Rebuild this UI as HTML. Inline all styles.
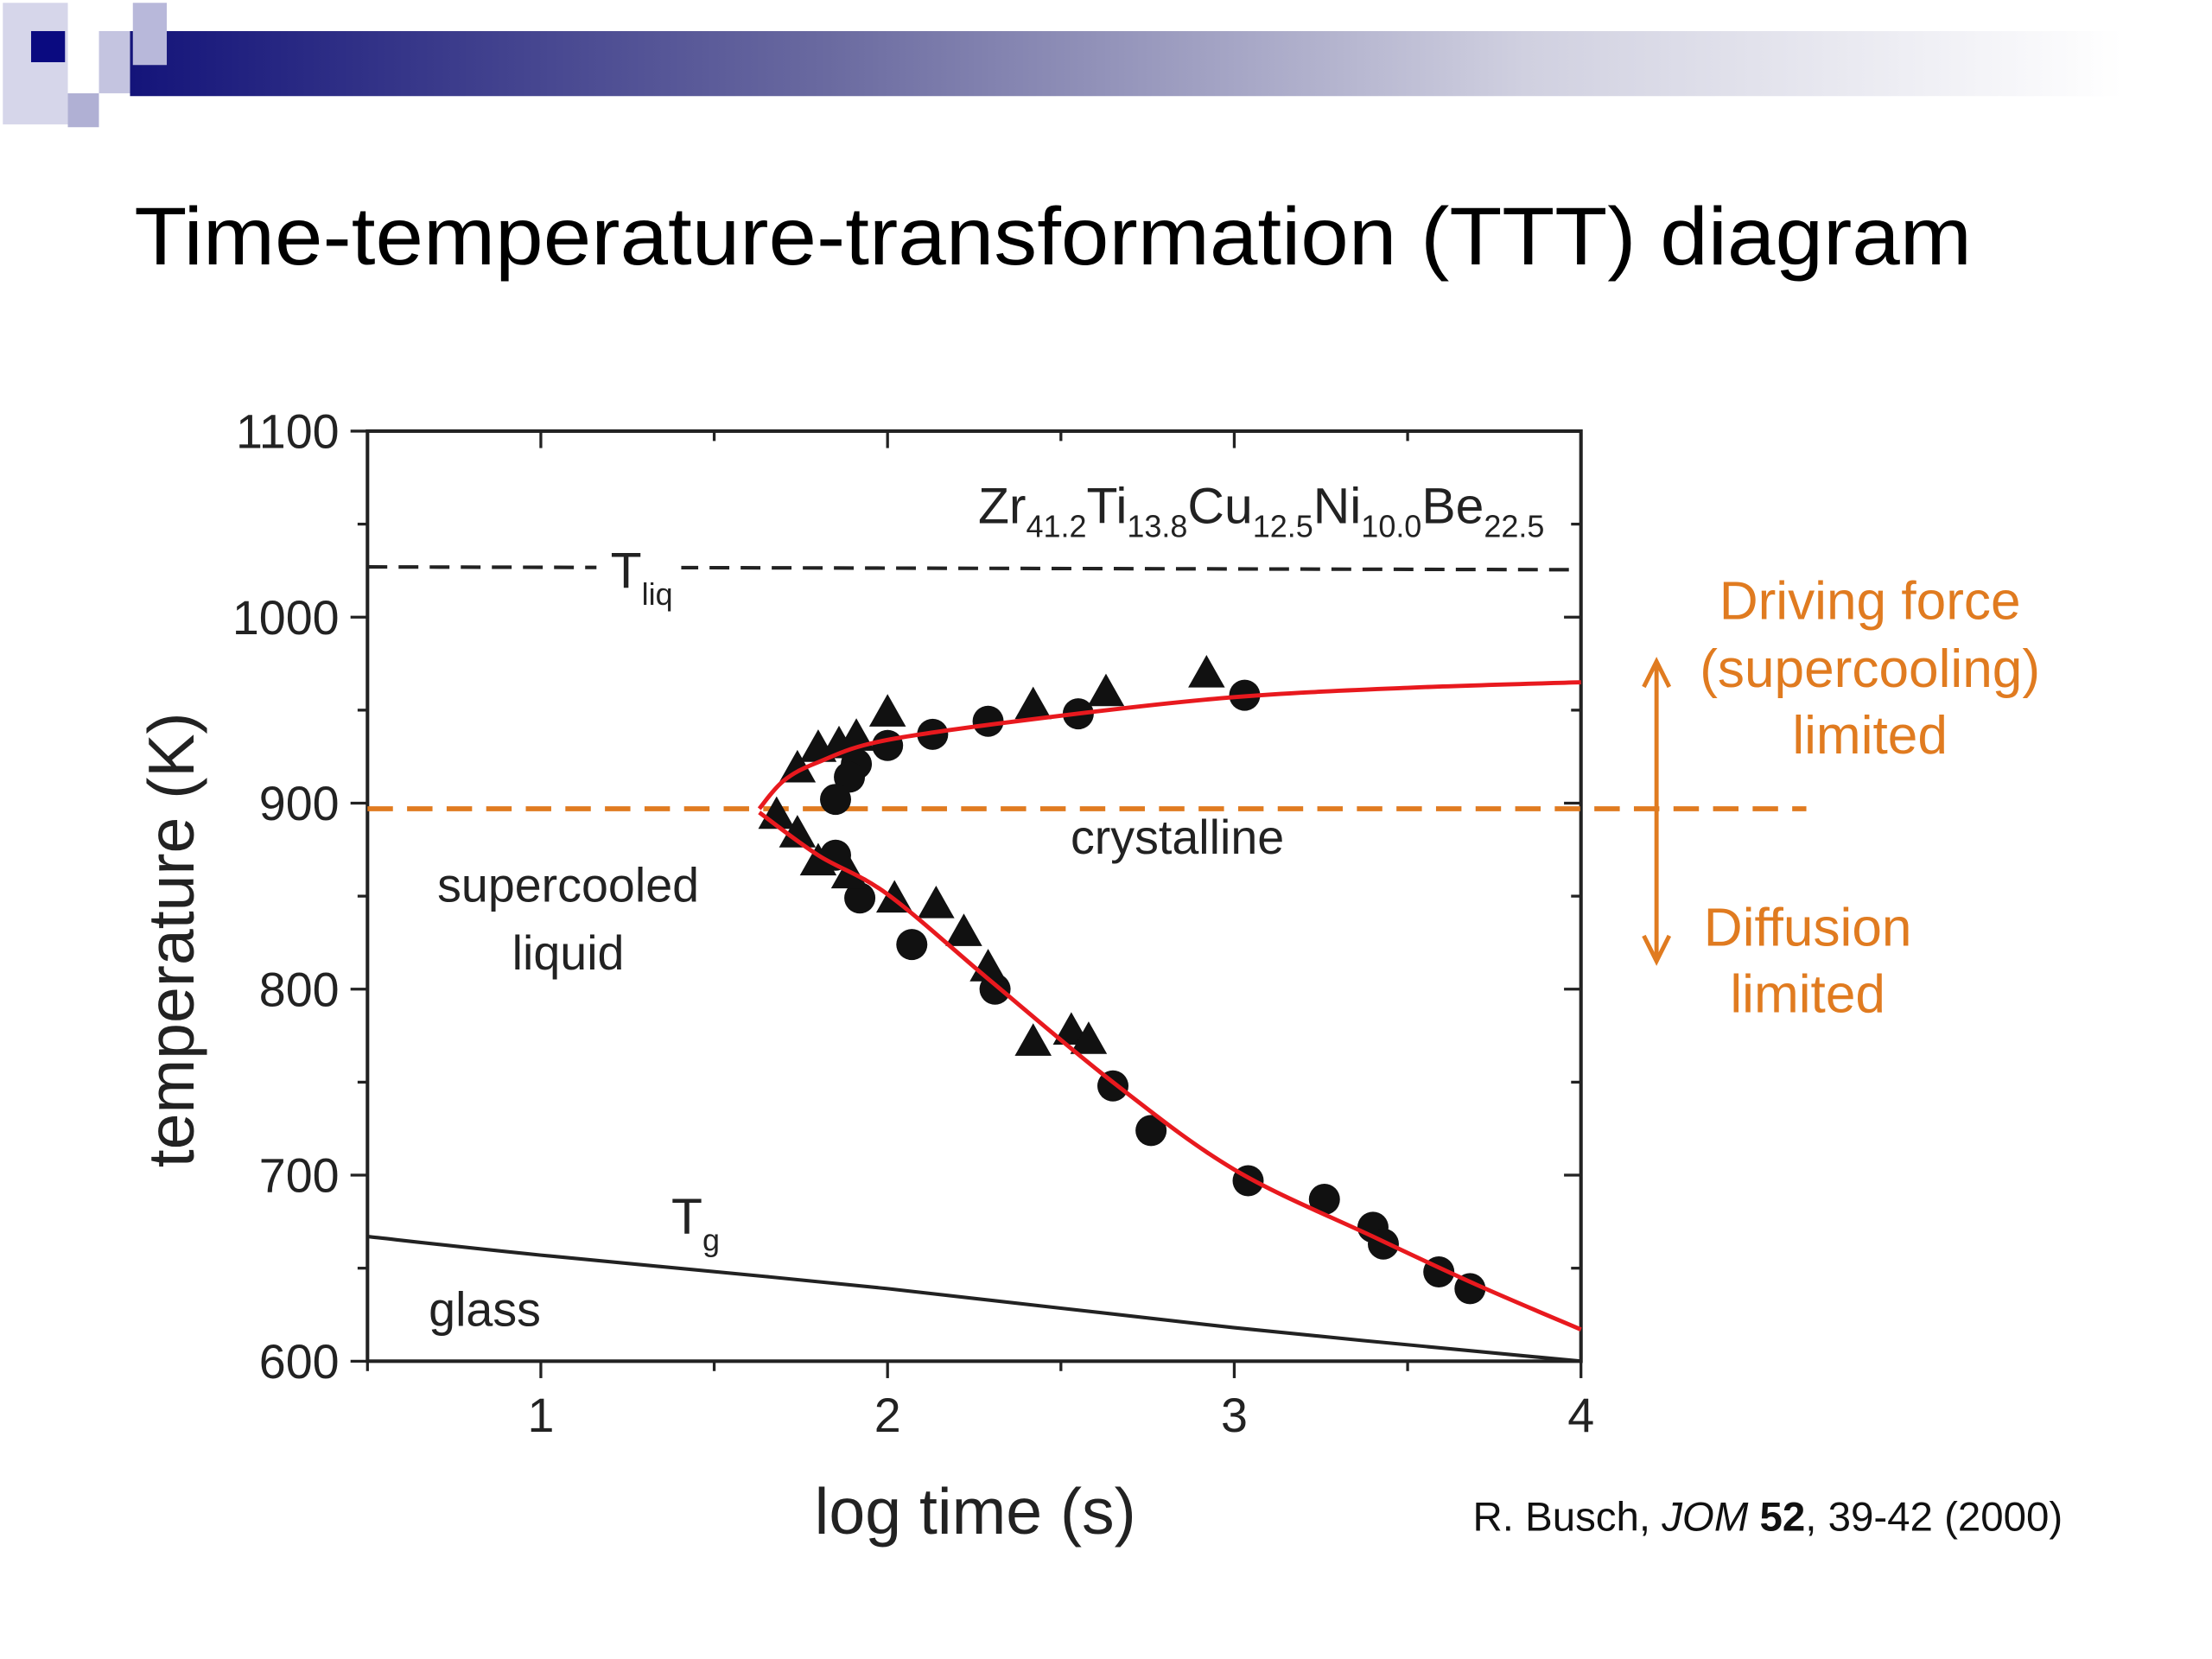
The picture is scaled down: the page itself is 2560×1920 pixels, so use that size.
<!DOCTYPE html>
<html><head><meta charset="utf-8"><style>
html,body{margin:0;padding:0;background:#fff;}
svg{display:block;}
text{font-family:"Liberation Sans",sans-serif;}
</style></head><body>
<svg id="s" width="2560" height="1920" viewBox="0 0 1565 1173.7" preserveAspectRatio="none" xmlns="http://www.w3.org/2000/svg">
<defs>
<linearGradient id="hg" x1="0" x2="1" y1="0" y2="0">
<stop offset="0" stop-color="#14147a"/><stop offset="0.35" stop-color="#6a6aa0"/><stop offset="0.7" stop-color="#d0d0e0"/><stop offset="1" stop-color="#ffffff"/>
</linearGradient>
</defs>
<g>
<rect x="92" y="22" width="1410" height="46" fill="url(#hg)"/>
<rect x="2" y="2" width="46" height="86" fill="#d6d6ea"/>
<rect x="48" y="66" width="22" height="24" fill="#b0b0d4"/>
<rect x="70" y="22" width="22" height="44" fill="#c4c4e0"/>
<rect x="94" y="2" width="24" height="44" fill="#b8b8da"/>
<rect x="22" y="22" width="24" height="22" fill="#0a0a80"/>
</g>
<text x="95" y="187" font-size="58" textLength="1300" lengthAdjust="spacingAndGlyphs">Time-temperature-transformation (TTT) diagram</text>
<g id="chart"></g>
</svg>
<script>
const xTicks=[1,2,3,4];
const yTicks=[600,700,800,900,1000,1100];
const tLiq=1027;
const tNose=897;
const tgLogT=[0.5,1,2,3,4];
const tgTemp=[667,657,639,618,600];
const upperLogT=[1.63,1.7,1.8,2.0,2.5,3.0,3.5,4.0];
const upperTemp=[897,912,922,934,947,957,962,965];
const lowerLogT=[1.63,1.8,2.0,2.3,2.65,3.0,3.4,3.7,4.0];
const lowerTemp=[895,872,851,804,750,703,667,641,617];
const circLogT=[3.03,2.55,2.29,2.13,2.0,1.91,1.89,1.85,1.85,1.92,2.07,2.31,2.65,2.76,3.04,3.26,3.40,3.43,3.59,3.68];
const circTemp=[958,948,944,937,931,921,914,902,872,849,824,800,748,724,697,687,672,663,648,639];
const triLogT=[1.74,1.80,1.86,1.91,2.0,2.42,2.63,2.92,1.68,1.74,1.80,1.89,2.02,2.14,2.22,2.29,2.42,2.53,2.58];
const triTemp=[918,929,931,935,948,952,959,969,893,883,868,861,848,845,830,811,771,777,772];

const NS='http://www.w3.org/2000/svg';
const g=document.getElementById('chart');
const X=v=>260+(v-0.5)*245.3;
const Y=t=>963-(t-600)*1.316;
function mk(tag,attrs,parent){const e=document.createElementNS(NS,tag);for(const k in attrs)e.setAttribute(k,attrs[k]);(parent||g).appendChild(e);return e;}
function txt(s,attrs){const e=mk('text',attrs);e.textContent=s;return e;}
function smooth(xs,ys){const p=xs.map((x,i)=>[X(x),Y(ys[i])]);let d='M'+p[0][0]+','+p[0][1];
for(let i=0;i<p.length-1;i++){const p0=p[i-1]||p[i],p1=p[i],p2=p[i+1],p3=p[i+2]||p2;
d+=` C${p1[0]+(p2[0]-p0[0])/6},${p1[1]+(p2[1]-p0[1])/6} ${p2[0]-(p3[0]-p1[0])/6},${p2[1]-(p3[1]-p1[1])/6} ${p2[0]},${p2[1]}`;}return d;}

let fr=mk('rect',{x:X(0.5),y:Y(1100),width:X(4)-X(0.5),height:Y(600)-Y(1100),fill:'none',stroke:'#222','stroke-width':2.5});


for(let v=0.5;v<=4.001;v+=0.5){const maj=Number.isInteger(v);const L=maj?12:7;
mk('line',{x1:X(v),x2:X(v),y1:Y(600),y2:Y(600)+L,stroke:'#222','stroke-width':2});
mk('line',{x1:X(v),x2:X(v),y1:Y(1100),y2:Y(1100)+L,stroke:'#222','stroke-width':2});}
for(let t=600;t<=1100;t+=50){const maj=t%100===0;const L=maj?12:7;
mk('line',{x1:X(0.5)-L,x2:X(0.5),y1:Y(t),y2:Y(t),stroke:'#222','stroke-width':2});
mk('line',{x1:X(4)-L,x2:X(4),y1:Y(t),y2:Y(t),stroke:'#222','stroke-width':2});}
xTicks.forEach(v=>{const e=txt(String(v),{x:X(v),y:1013,'font-size':34,'text-anchor':'middle',fill:'#222'});

});
yTicks.forEach(t=>{const e=txt(String(t),{x:240,y:Y(t)+12,'font-size':34,'text-anchor':'end',fill:'#222'});

});
let xt=txt('log time (s)',{x:690,y:1085,'font-size':46,'text-anchor':'middle',fill:'#222'});


let yt=txt('temperature (K)',{x:0,y:0,'font-size':46,'text-anchor':'middle',fill:'#222',transform:'translate(137,665) rotate(-90)'});



let tl=mk('line',{x1:X(0.5),x2:X(4),y1:Y(tLiq),y2:Y(tLiq)+2,stroke:'#222','stroke-width':2.5,'stroke-dasharray':'14,8'});


mk('rect',{x:422,y:385,width:60,height:45,fill:'#fff'});
let nl=mk('line',{x1:X(0.5),x2:1278,y1:Y(tNose),y2:Y(tNose),stroke:'#e07b20','stroke-width':3.5,'stroke-dasharray':'18,10'});


let tg=mk('path',{d:smooth(tgLogT,tgTemp),fill:'none',stroke:'#222','stroke-width':2.5});


circLogT.forEach((v,i)=>{const c=mk('circle',{cx:X(v),cy:Y(circTemp[i]),r:11,fill:'#111'});

});
triLogT.forEach((v,i)=>{const x=X(v),y=Y(triTemp[i]);const p=mk('polygon',{points:`${x},${y-14} ${x-13},${y+9} ${x+13},${y+9}`,fill:'#111'});

});
let up=mk('path',{d:smooth(upperLogT,upperTemp),fill:'none',stroke:'#e8191e','stroke-width':3});


let lo=mk('path',{d:smooth(lowerLogT,lowerTemp),fill:'none',stroke:'#e8191e','stroke-width':3});



function lab(html,x,y,size,name,anchor,fill){const e=mk('text',{x:x,y:y,'font-size':size,'text-anchor':anchor||'start',fill:fill||'#222'});e.innerHTML=html;

return e;}
const sb=(s)=>`<tspan font-size="22" dy="10">${s}</tspan>`;
lab(`Zr${sb('41.2')}<tspan dy="-10">Ti</tspan>${sb('13.8')}<tspan dy="-10">Cu</tspan>${sb('12.5')}<tspan dy="-10">Ni</tspan>${sb('10.0')}<tspan dy="-10">Be</tspan>${sb('22.5')}`,692,370,36,'alloy-composition-label');
lab(`T<tspan font-size="22" dy="12">liq</tspan>`,432,416,36,'t-liquidus-label');
lab(`T<tspan font-size="22" dy="12">g</tspan>`,475,873,36,'tg-label');
lab('crystalline',833,604,34,'crystalline-label','middle');
lab('supercooled',402,638,34,'supercooled-label','middle');
lab('liquid',402,686,34,'liquid-label','middle');
lab('glass',343,938,34,'glass-label','middle');
const OR='#e07b20';
lab('Driving force',1323,438,38,'driving-force-label','middle',OR);
lab('(supercooling)',1323,486,38,'supercooling-label','middle',OR);
lab('limited',1323,533,38,'driving-limited-label','middle',OR);
lab('Diffusion',1279,669,38,'diffusion-label','middle',OR);
lab('limited',1279,716,38,'diffusion-limited-label','middle',OR);
let ar=mk('g',{});


mk('line',{x1:1172,x2:1172,y1:470,y2:678,stroke:OR,'stroke-width':3},ar);
mk('path',{d:'M1163,486 L1172,468 L1181,486',fill:'none',stroke:OR,'stroke-width':3},ar);
mk('path',{d:'M1163,662 L1172,680 L1181,662',fill:'none',stroke:OR,'stroke-width':3},ar);
lab('R. Busch, <tspan font-style="italic">JOM</tspan> <tspan font-weight="bold">52</tspan>, 39-42 (2000)',1042,1083,29,'citation','start','#111');
</script>
</body></html>
